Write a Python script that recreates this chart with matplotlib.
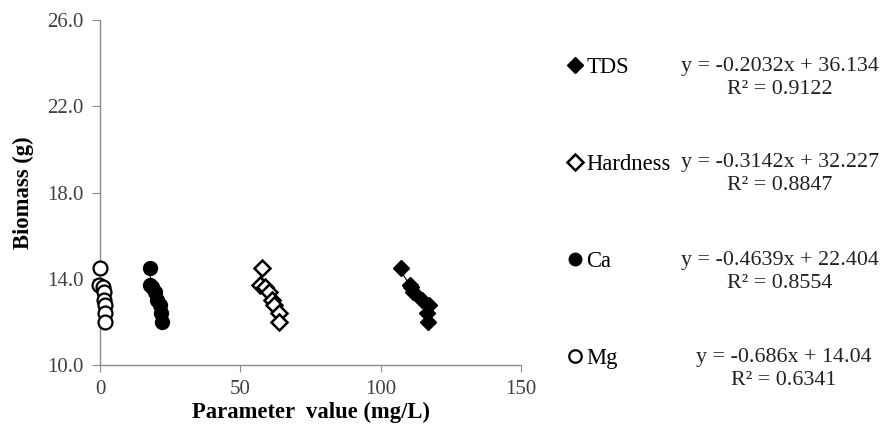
import matplotlib
matplotlib.use("Agg")
import matplotlib.pyplot as plt
import numpy as np

plt.rcParams['font.family'] = ['Liberation Serif', 'DejaVu Serif']

# ---- data ----
series = ["TDS", "Hardness", "Ca", "Mg"]
biomass = [14.5, 13.7, 13.6, 13.4, 13.0, 12.8, 12.4, 12.0]
tds_x = [107.4, 110.5, 110.9, 111.4, 114.6, 117.3, 116.4, 116.8]
hardness_x = [57.7, 57.1, 58.9, 60.1, 61.3, 61.9, 63.7, 63.7]
ca_x = [17.9, 17.9, 18.5, 19.6, 20.2, 21.4, 21.7, 22.0]
mg_x = [0.0, -0.2, 1.0, 1.5, 1.5, 1.8, 1.8, 1.8]
slopes = [-0.2032, -0.3142, -0.4639, -0.686]
intercepts = [36.134, 32.227, 22.404, 14.04]
r2 = [0.9122, 0.8847, 0.8554, 0.6341]
x_ticks = [0, 50, 100, 150]
y_ticks = [10.0, 14.0, 18.0, 22.0, 26.0]

xs = [tds_x, hardness_x, ca_x, mg_x]
styles = [
    dict(marker='D', ms=8.5, mfc='black', mec='black', mew=1.0),
    dict(marker='D', ms=8.5, mfc='white', mec='black', mew=1.8),
    dict(marker='o', ms=10, mfc='black', mec='black', mew=1.0),
    dict(marker='o', ms=10, mfc='white', mec='black', mew=1.6),
]

fig = plt.figure(figsize=(8.84, 4.43), dpi=100)
W, H = 884, 443
ax = fig.add_axes([100 / W, 1 - 365 / H, 421 / W, 345 / H])

handles = []
for name, x, st, m, b in zip(series, xs, styles, slopes, intercepts):
    xa = np.array(x)
    xl = np.array([xa.min(), xa.max()])
    ax.plot(xl, m * xl + b, color='black', lw=0.8, zorder=2)
    h, = ax.plot(x, biomass, linestyle='none', clip_on=False, zorder=3,
                 label=name, **st)
    handles.append(h)

ax.set_xlim(0, 150)
ax.set_ylim(10, 26)
ax.set_xticks(x_ticks)
ax.set_yticks(y_ticks)
ax.set_yticklabels([f"{v:.1f}" for v in y_ticks])
for s in ['top', 'right']:
    ax.spines[s].set_visible(False)
for s in ['left', 'bottom']:
    ax.spines[s].set_color('#8c8c8c')
    ax.spines[s].set_linewidth(1.0)
ax.tick_params(axis='both', colors='#8c8c8c', labelcolor='#404040',
               labelsize=15, direction='out')
ax.tick_params(axis='y', length=6, pad=6)
ax.tick_params(axis='x', length=5, pad=6)

ax.set_xlabel("Parameter  value (mg/L)", fontsize=16.3, fontweight='bold',
              labelpad=2)
ax.set_ylabel("Biomass (g)", fontsize=16.3, fontweight='bold', labelpad=9)

leg = fig.legend(handles=handles, labels=series, loc='upper left',
                 bbox_to_anchor=(568 / W, 1 - 57 / H), frameon=False,
                 fontsize=16.3, labelspacing=3.35, handlelength=0.6,
                 handletextpad=0.2, borderpad=0, borderaxespad=0,
                 markerscale=0.9)

eq_cx = [780, 780, 780, 784]
eq_y = [66, 162, 260, 357]
for m, b, r, cx, cy in zip(slopes, intercepts, r2, eq_cx, eq_y):
    txt = f"y = {m}x + {b}\nR² = {r}"
    fig.text(cx / W, 1 - (cy - 9) / H, txt, ha='center', va='top',
             multialignment='center', fontsize=15.8, color='#222222',
             linespacing=1.3, transform=fig.transFigure)

fig.savefig("out.png", dpi=100)
